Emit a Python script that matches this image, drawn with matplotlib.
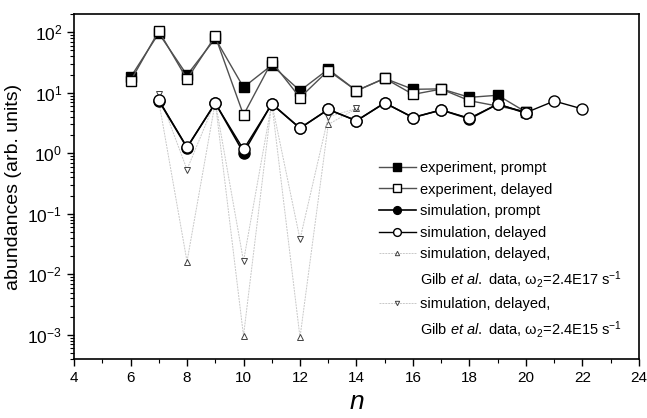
import numpy as np
import matplotlib
matplotlib.use('Agg')
import matplotlib.pyplot as plt
from matplotlib.lines import Line2D

plt.rcParams['font.family'] = ['Liberation Sans', 'DejaVu Sans']
plt.rcParams['mathtext.fontset'] = 'custom'
plt.rcParams['mathtext.rm'] = 'Liberation Sans'
plt.rcParams['mathtext.it'] = 'Liberation Sans:italic'

# experiment
n_exp_prompt = [6, 7, 8, 9, 10, 11, 12, 13, 14, 15, 16, 17, 18, 19, 20]
exp_prompt = [18, 96, 19.6, 79, 12.3, 28.6, 10.8, 24.5, 10.8, 17.3, 11.4, 11.6, 8.4, 9.1, 4.8]
n_exp_delayed = [6, 7, 8, 9, 10, 11, 12, 13, 14, 15, 16, 17, 18, 20]
exp_delayed = [15.6, 105, 16.8, 86, 4.3, 32.5, 8.3, 23.3, 10.8, 17.3, 9.4, 11.5, 7.4, 4.9]

# simulation
n_sim_prompt = [7, 8, 9, 10, 11, 12, 13, 14, 15, 16, 17, 18, 19, 20]
sim_prompt = [7.4, 1.24, 6.8, 1.02, 6.6, 2.6, 5.3, 3.45, 6.8, 3.9, 5.2, 3.7, 6.5, 4.6]
n_sim_delayed = [7, 8, 9, 10, 11, 12, 13, 14, 15, 16, 17, 18, 19, 20, 21, 22]
sim_delayed = [7.6, 1.26, 6.7, 1.16, 6.5, 2.6, 5.3, 3.45, 6.8, 3.9, 5.2, 3.8, 6.5, 4.7, 7.3, 5.4]

# Gilb et al. data
n_gilb = [7, 8, 9, 10, 11, 12, 13, 14]
gilb_17 = [7.3, 0.0163, 7.0, 0.00097, 6.8, 0.00091, 3.0, 5.5]
gilb_15 = [9.5, 0.54, 7.2, 0.0165, 6.8, 0.038, 4.0, 5.5]

fig = plt.figure(figsize=(6.47, 4.18), dpi=100)
ax = fig.add_axes([0.1144, 0.1411, 0.8732, 0.8254])

g17, = ax.plot(n_gilb, gilb_17, color='#c8c8c8', lw=0.7, ls=(0, (2, 1)), marker='^',
               ms=4.5, mfc='white', mec='#404040', mew=0.7, zorder=2)
g15, = ax.plot(n_gilb, gilb_15, color='#c8c8c8', lw=0.7, ls=(0, (2, 1)), marker='v',
               ms=4.5, mfc='white', mec='#404040', mew=0.7, zorder=2)

ep, = ax.plot(n_exp_prompt, exp_prompt, color='#505050', lw=1.0, marker='s', ms=7.5,
              mfc='black', mec='black', zorder=3)
ed, = ax.plot(n_exp_delayed, exp_delayed, color='#505050', lw=1.0, marker='s', ms=7.5,
              mfc='white', mec='black', mew=1.0, zorder=4)
sp, = ax.plot(n_sim_prompt, sim_prompt, color='black', lw=1.2, marker='o', ms=8,
              mfc='black', mec='black', zorder=5)
sd, = ax.plot(n_sim_delayed, sim_delayed, color='black', lw=1.0, marker='o', ms=8,
              mfc='white', mec='black', mew=1.0, zorder=6)

ax.set_yscale('log')
ax.set_xlim(4, 24)
ax.set_ylim(4e-4, 200)
ax.set_xticks(np.arange(4, 25, 2))
ax.set_xticks(np.arange(5, 24, 2), minor=True)
ax.tick_params(axis='both', which='major', direction='out', length=5, width=1)
ax.tick_params(axis='x', labelsize=11)
ax.tick_params(axis='y', labelsize=12.5)
ax.tick_params(axis='both', which='minor', direction='out', length=3, width=0.8)
ax.yaxis.set_minor_locator(matplotlib.ticker.LogLocator(base=10, subs=np.arange(2, 10), numticks=20))
for s in ax.spines.values():
    s.set_linewidth(1.2)

ax.set_xlabel('$n$', fontsize=19)
ax.set_ylabel('abundances (arb. units)', fontsize=14)

blank = Line2D([], [], linestyle='none', marker='none')
handles = [ep, ed, sp, sd, g17, blank, g15, blank]
labels = ['experiment, prompt', 'experiment, delayed', 'simulation, prompt',
          'simulation, delayed', 'simulation, delayed,',
          'Gilb $\\it{et\\ al.}$ data, \u03c9$_2$=2.4E17 s$^{-1}$',
          'simulation, delayed,',
          'Gilb $\\it{et\\ al.}$ data, \u03c9$_2$=2.4E15 s$^{-1}$']
ax.legend(handles, labels, loc='upper left', bbox_to_anchor=(0.517, 0.612),
          frameon=False, fontsize=10.5, markerscale=0.7,
          handlelength=2.5, handletextpad=0.3, labelspacing=0.52)

fig.savefig('out.png', dpi=100)
